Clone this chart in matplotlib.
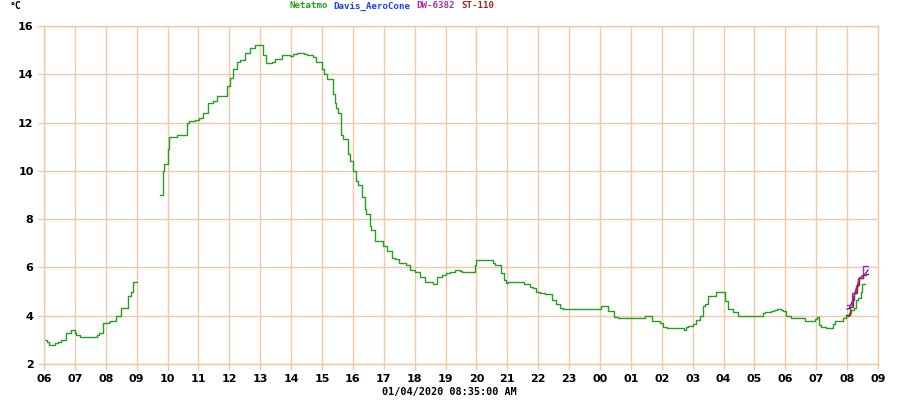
import numpy as np
import matplotlib
matplotlib.use("Agg")
import matplotlib.pyplot as plt

# Hours since 06:00 on the first day, temperature in °C (NaN = gap)
netatmo_h = [0.0, 0.1, 0.16, 0.35, 0.45, 0.55, 0.7, 0.88, 1.0, 1.05, 1.16, 1.72, 1.78, 1.92, 2.1, 2.15,
             2.33, 2.5, 2.73, 2.82, 2.88, 3.0, 3.01,
             3.75, 3.86, 3.90, 4.00, 4.06, 4.31, 4.62, 4.70, 4.89, 5.03, 5.16, 5.32, 5.48, 5.59, 5.91,
             6.02, 6.13, 6.24, 6.34, 6.50, 6.67, 6.83, 7.02, 7.10, 7.18, 7.37, 7.48, 7.69, 7.85, 7.96,
             8.07, 8.18, 8.41, 8.50, 8.72, 8.82, 8.99, 9.05, 9.15, 9.36, 9.42, 9.45, 9.53, 9.60, 9.67,
             9.85, 9.92, 10.01, 10.10, 10.17, 10.30, 10.39, 10.44, 10.55, 10.60, 10.71, 10.96, 11.09,
             11.28, 11.36, 11.50, 11.72, 11.84, 12.01, 12.17, 12.33, 12.60, 12.71, 12.90, 13.03, 13.16,
             13.30, 13.46, 13.52, 13.95, 14.00, 14.54, 14.60, 14.78, 14.89, 14.97, 15.03, 15.53, 15.73,
             15.84, 15.94, 16.05, 16.21, 16.43, 16.59, 16.70, 16.79, 18.02, 18.16, 18.26, 18.34, 18.45,
             18.59, 19.45, 19.53, 19.69, 19.77, 19.94, 20.04, 20.17, 20.71, 20.78, 20.85, 21.01, 21.12,
             21.23, 21.32, 21.39, 21.50, 21.75, 22.05, 22.15, 22.31, 22.47, 23.28, 23.33, 23.52, 23.62,
             23.73, 23.87, 23.93, 24.03, 24.17, 24.63, 24.95, 25.03, 25.08, 25.17, 25.33, 25.55, 25.62,
             25.87, 25.98, 26.06, 26.14, 26.21, 26.28, 26.35, 26.44, 26.49, 26.58]
netatmo_t = [3.0, 2.9, 2.8, 2.85, 2.9, 3.0, 3.3, 3.4, 3.3, 3.2, 3.1, 3.2, 3.3, 3.7, 3.75, 3.8,
             4.0, 4.3, 4.8, 5.0, 5.4, 5.4, np.nan,
             9.0, 10.0, 10.3, 10.9, 11.4, 11.5, 12.0, 12.05, 12.1, 12.2, 12.4, 12.8, 12.9, 13.1, 13.5,
             13.85, 14.2, 14.5, 14.6, 14.9, 15.1, 15.2, 15.2, 14.8, 14.45, 14.5, 14.65, 14.8, 14.8, 14.75,
             14.85, 14.9, 14.85, 14.8, 14.7, 14.5, 14.2, 14.0, 13.8, 13.2, 12.8, 12.6, 12.4, 11.5, 11.3,
             10.7, 10.4, 10.0, 9.6, 9.4, 8.9, 8.4, 8.2, 7.7, 7.55, 7.1, 6.9, 6.7,
             6.4, 6.35, 6.2, 6.1, 5.9, 5.8, 5.6, 5.4, 5.32, 5.6, 5.7, 5.75, 5.8,
             5.9, 5.85, 5.8, 6.1, 6.3, 6.2, 6.1, 5.75, 5.5, 5.35, 5.4, 5.3, 5.2,
             5.15, 5.0, 4.93, 4.9, 4.65, 4.5, 4.3, 4.27, 4.39, 4.4, 4.2, 4.18, 3.95,
             3.9, 3.97, 4.0, 3.8, 3.77, 3.7, 3.53, 3.5, 3.42, 3.55, 3.58, 3.65, 3.83,
             3.97, 4.4, 4.48, 4.83, 4.98, 4.6, 4.28, 4.14, 4.0, 4.1, 4.14, 4.2, 4.25,
             4.28, 4.22, 4.18, 4.0, 3.9, 3.8, 3.86, 3.93, 3.63, 3.53, 3.5, 3.65, 3.8,
             3.9, 4.0, 4.1, 4.25, 4.3, 4.65, 4.73, 5.0, 5.3, 5.3]

davis_h = [26.0, 26.07, 26.14, 26.19, 26.25, 26.30, 26.35, 26.40, 26.52, 26.60, 26.68]
davis_t = [4.27, 4.3, 4.52, 4.65, 4.93, 5.14, 5.34, 5.55, 5.68, 5.75, 5.89]

dw_h = [26.0, 26.17, 26.30, 26.36, 26.50, 26.69]
dw_t = [4.45, 4.95, 5.25, 5.55, 6.07, 6.07]

st_h = [25.98, 26.08, 26.19, 26.23, 26.31, 26.40, 26.52, 26.62, 26.69]
st_t = [4.04, 4.38, 4.65, 4.93, 5.27, 5.55, 5.68, 5.73, 5.73]

series_names = ["Netatmo", "Davis_AeroCone", "DW-6382", "ST-110"]

hour_labels = ["06", "07", "08", "09", "10", "11", "12", "13", "14", "15", "16", "17", "18", "19",
               "20", "21", "22", "23", "00", "01", "02", "03", "04", "05", "06", "07", "08", "09"]
y_ticks = [2, 4, 6, 8, 10, 12, 14, 16]

GRID = "#f2c9a8"
C_NET = "#22a022"
C_DAV = "#1a3cff"
C_DW = "#a030a8"
C_ST = "#a82020"

fig = plt.figure(figsize=(9, 4), dpi=100)
ax = fig.add_axes([44 / 900, 36 / 400, (878 - 44) / 900, (364 - 26) / 400])

ax.plot(netatmo_h, netatmo_t, color=C_NET, lw=1.0, drawstyle="steps-post")
ax.plot(davis_h, davis_t, color=C_DAV, lw=1.0)
ax.plot(dw_h, dw_t, color=C_DW, lw=1.0, drawstyle="steps-post")
ax.plot(st_h, st_t, color=C_ST, lw=1.0, drawstyle="steps-post")

ax.set_xlim(0, 27)
ax.set_ylim(2, 16)
ax.set_xticks(range(len(hour_labels)))
ax.set_xticklabels(hour_labels)
ax.set_yticks(y_ticks)
ax.set_yticklabels([str(v) for v in y_ticks])
ax.grid(True, color=GRID, lw=1.0)
ax.set_axisbelow(True)
for s in ax.spines.values():
    s.set_color(GRID)
    s.set_linewidth(1.0)
ax.tick_params(axis="both", colors=GRID, length=4, width=1, labelcolor="black", labelsize=8)
for lab in ax.get_xticklabels() + ax.get_yticklabels():
    lab.set_fontweight("bold")
    lab.set_family("DejaVu Sans")

mono = "DejaVu Sans Mono"
fig.text(10 / 900, 1 - 6 / 400, "°C", fontsize=7, fontweight="bold", family=mono, va="center", ha="left")

# Legend words laid out one after another, centred around x=391 px
canvas = fig.canvas
renderer = canvas.get_renderer()
colors = [C_NET, C_DAV, C_DW, C_ST]
texts = []
for name, col in zip(series_names, colors):
    t = fig.text(0, 1 - 6 / 400, name, fontsize=6.6, fontweight="bold", family=mono, color=col,
                 va="center", ha="left")
    texts.append(t)
widths = [t.get_window_extent(renderer).width for t in texts]
gap = 6
total = sum(widths) + gap * (len(widths) - 1)
x = 391.5 - total / 2
for t, w in zip(texts, widths):
    t.set_x(x / 900)
    x += w + gap

fig.text(449 / 900, 1 - 392 / 400, "01/04/2020 08:35:00 AM", fontsize=7.3, fontweight="bold", family=mono,
         va="center", ha="center")

fig.savefig("out.png", dpi=100, facecolor="white")
